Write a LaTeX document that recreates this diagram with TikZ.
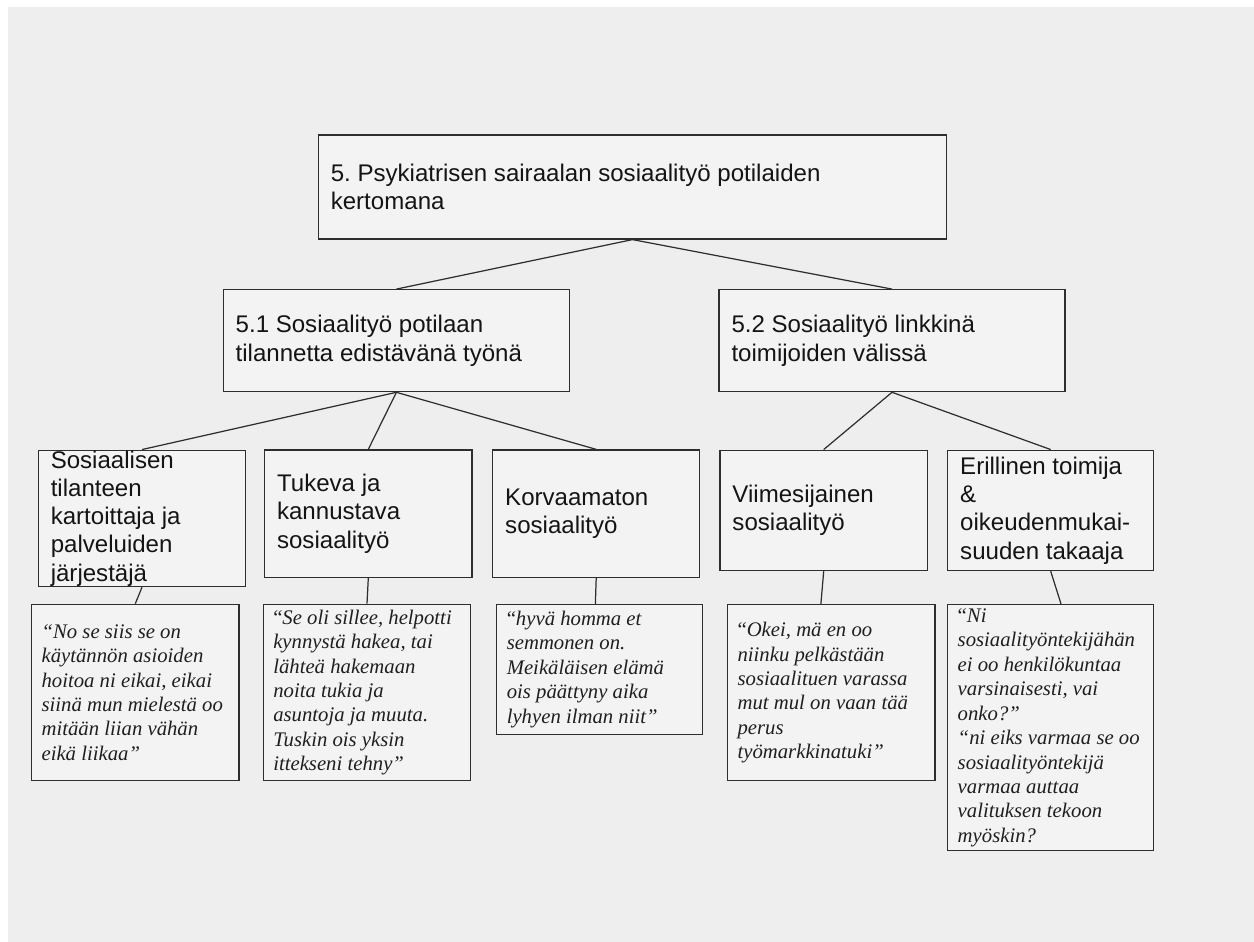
\documentclass[tikz,border=0pt]{standalone}
\usepackage{fontspec}
\setmainfont{Liberation Sans}
\newfontfamily\quotefont{Liberation Serif}
\usepackage{tikz}
\usetikzlibrary{calc}
\definecolor{pagegray}{HTML}{EEEEEE}
\definecolor{boxgray}{HTML}{F3F3F3}
\definecolor{linegray}{HTML}{2E2E2E}

\begin{document}
\frenchspacing
\begin{tikzpicture}[x=0.02cm, y=-0.02cm,
    topicbox/.style={draw=linegray, line width=0.7pt, fill=boxgray, align=flush left,
      inner xsep=0.25cm, inner ysep=0pt, text=black!92,
      font=\fontsize{13.7}{16.1}\selectfont},
    citebox/.style={draw=linegray, line width=0.7pt, fill=boxgray, align=flush left,
      inner xsep=0.2cm, inner ysep=0pt, text=black!88,
      font=\quotefont\itshape\fontsize{11.8}{13.9}\selectfont},
    branch/.style={draw=linegray, line width=0.7pt}]
    \useasboundingbox (0,0) rectangle (1254,942);
    \fill[white] (0,0) rectangle (1254,942);
    \fill[pagegray] (8,7) rectangle (1254,942);

    % main theme and the two sub-themes
    \node[topicbox, text width=12.07cm, minimum height=2.08cm] (main) at (632.5,187)
        {5. Psykiatrisen sairaalan sosiaalityö potilaiden\\kertomana};
    \node[topicbox, text width=6.43cm, minimum height=2.04cm] (care) at (396.4,340.7)
        {5.1 Sosiaalityö potilaan\\tilannetta edistävänä työnä};
    \node[topicbox, text width=6.42cm, minimum height=2.04cm] (link) at (892,340.7)
        {5.2 Sosiaalityö linkkinä\\toimijoiden välissä};

    % categories
    \node[topicbox, text width=3.65cm, minimum height=2.73cm] (mapper) at (142,518.4)
        {Sosiaalisen\\tilanteen\\kartoittaja ja\\palveluiden\\järjestäjä};
    \node[topicbox, text width=3.65cm, minimum height=2.55cm] (support) at (368.3,513.7)
        {Tukeva ja\\kannustava\\sosiaalityö};
    \node[topicbox, text width=3.64cm, minimum height=2.55cm] (vital) at (596.2,513.7)
        {Korvaamaton\\sosiaalityö};
    \node[topicbox, text width=3.65cm, minimum height=2.41cm] (last) at (823.7,510.4)
        {Viimesijainen\\sosiaalityö};
    \node[topicbox, text width=3.62cm, minimum height=2.41cm] (fair) at (1050.7,510.4)
        {Erillinen toimija\\\&\\oikeudenmukai-\\suuden takaaja};

    % quotes
    \node[citebox, text width=3.75cm, minimum height=3.53cm] (qmapper) at (135.3,692.5)
        {“No se siis se on\\käytännön asioiden\\hoitoa ni eikai, eikai\\siinä mun mielestä oo\\mitään liian vähän\\eikä liikaa”};
    \node[citebox, text width=3.75cm, minimum height=3.53cm] (qsupport) at (367,692.5)
        {{\upshape“}Se oli sillee, helpotti\\kynnystä hakea, tai\\lähteä hakemaan\\noita tukia ja\\asuntoja ja muuta.\\Tuskin ois yksin\\ittekseni tehny”};
    \node[citebox, text width=3.71cm, minimum height=2.59cm] (qvital) at (599.5,669.4)
        {{\upshape“}hyvä homma et\\semmonen on.\\Meikäläisen elämä\\ois päättyny aika\\lyhyen ilman niit”};
    \node[citebox, text width=3.75cm, minimum height=3.52cm] (qlast) at (831.3,692.7)
        {{\upshape“}Okei, mä en oo\\niinku pelkästään\\sosiaalituen varassa\\mut mul on vaan tää\\perus\\työmarkkinatuki”};
    \node[citebox, text width=3.72cm, minimum height=4.92cm] (qfair) at (1050.7,727.7)
        {{\upshape“}Ni\\sosiaalityöntekijähän\\ei oo henkilökuntaa\\varsinaisesti, vai\\onko?”\\“ni eiks varmaa se oo\\sosiaalityöntekijä\\varmaa auttaa\\valituksen tekoon\\myöskin?};

    \draw[branch] (main.south) -- (care.north);
    \draw[branch] (main.south) -- (link.north);
    \foreach \cat in {mapper,support,vital}
        \draw[branch] (care.south) -- (\cat.north);
    \foreach \cat in {last,fair}
        \draw[branch] (link.south) -- (\cat.north);
    \draw[branch] (mapper.south) -- (qmapper.north);
    \draw[branch] (support.south) -- (qsupport.north);
    \draw[branch] (vital.south) -- ($(qvital.north west)!0.48!(qvital.north east)$);
    \draw[branch] (last.south) -- ($(qlast.north west)!0.45!(qlast.north east)$);
    \draw[branch] (fair.south) -- ($(qfair.north west)!0.55!(qfair.north east)$);
\end{tikzpicture}
\end{document}
